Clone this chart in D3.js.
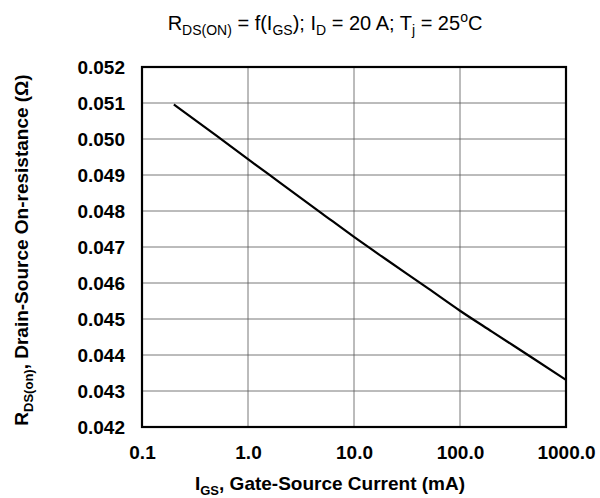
<!DOCTYPE html>
<html>
<head>
<meta charset="utf-8">
<script src="https://cdn.jsdelivr.net/npm/d3@7"></script>
<style>
body { margin: 0; background: white; }
text { font-family: "Liberation Sans", Arial, sans-serif; fill: black; }
.tick text { font-weight: bold; font-size: 19px; }
.grid line { stroke: #555; stroke-width: 0.8; }
</style>
</head>
<body>
<script>
// I_GS (mA) vs R_DS(on) (ohm)
const igs  = [0.2, 0.5, 1, 2, 5, 10, 20, 50, 100, 200, 500, 1000];
const rdson = [0.05096, 0.05010, 0.04944, 0.04879, 0.04793, 0.04728,
               0.04666, 0.04585, 0.04523, 0.04465, 0.04389, 0.04331];
const xTicks = [0.1, 1, 10, 100, 1000];
const xTickLabels = ["0.1", "1.0", "10.0", "100.0", "1000.0"];
const yTicks = [0.042, 0.043, 0.044, 0.045, 0.046, 0.047, 0.048, 0.049, 0.050, 0.051, 0.052];

const W = 600, H = 498;
const margin = {top: 67, right: 34, bottom: 71, left: 142};
const width = W - margin.left - margin.right;
const height = H - margin.top - margin.bottom;

const svg = d3.select("body").append("svg")
  .attr("width", W).attr("height", H);

const g = svg.append("g")
  .attr("transform", `translate(${margin.left},${margin.top})`);

const x = d3.scaleLog().domain([0.1, 1000]).range([0, width]);
const y = d3.scaleLinear().domain([0.042, 0.052]).range([height, 0]);

// grid
g.append("g").attr("class", "grid")
  .selectAll("line").data(yTicks.slice(1, -1)).enter().append("line")
  .attr("x1", 0).attr("x2", width)
  .attr("y1", d => y(d)).attr("y2", d => y(d));
g.append("g").attr("class", "grid")
  .selectAll("line").data(xTicks.slice(1, -1)).enter().append("line")
  .attr("y1", 0).attr("y2", height)
  .attr("x1", d => x(d)).attr("x2", d => x(d));

// axes (labels only)
const xAxis = d3.axisBottom(x).tickValues(xTicks)
  .tickFormat((d, i) => xTickLabels[i]).tickSize(0).tickPadding(19);
const yAxis = d3.axisLeft(y).tickValues(yTicks)
  .tickFormat(d3.format(".3f")).tickSize(0).tickPadding(17);

g.append("g").attr("transform", `translate(0,${height})`).call(xAxis)
  .call(s => s.select(".domain").remove());
g.append("g").call(yAxis)
  .call(s => s.select(".domain").remove());

// curve
const line = d3.line().curve(d3.curveMonotoneX)
  .x((d, i) => x(igs[i])).y(d => y(d));
g.append("path").datum(rdson)
  .attr("fill", "none").attr("stroke", "black").attr("stroke-width", 2.2)
  .attr("d", line);

// frame
g.append("rect").attr("width", width).attr("height", height)
  .attr("fill", "none").attr("stroke", "black").attr("stroke-width", 2.2);

// title
const title = svg.append("text")
  .attr("x", 325).attr("y", 30)
  .attr("text-anchor", "middle").style("font-size", "20px");
title.append("tspan").text("R");
title.append("tspan").attr("dy", 5).style("font-size", "14px").text("DS(ON)");
title.append("tspan").attr("dy", -5).text(" = f(I");
title.append("tspan").attr("dy", 5).style("font-size", "14px").text("GS");
title.append("tspan").attr("dy", -5).text("); I");
title.append("tspan").attr("dy", 5).style("font-size", "14px").text("D");
title.append("tspan").attr("dy", -5).text(" = 20 A; T");
title.append("tspan").attr("dy", 5).style("font-size", "14px").text("j");
title.append("tspan").attr("dy", -5).text(" = 25");
title.append("tspan").attr("dy", -8).style("font-size", "14px").text("o");
title.append("tspan").attr("dy", 8).text("C");

// x title
const xt = svg.append("text")
  .attr("x", 330).attr("y", 490)
  .attr("text-anchor", "middle")
  .style("font-size", "19px").style("font-weight", "bold");
xt.append("tspan").text("I");
xt.append("tspan").attr("dy", 5).style("font-size", "13px").text("GS");
xt.append("tspan").attr("dy", -5).text(", Gate-Source Current (mA)");

// y title
const yt = svg.append("text")
  .attr("transform", `translate(28,${margin.top + height / 2 + 3}) rotate(-90)`)
  .attr("text-anchor", "middle")
  .style("font-size", "19px").style("font-weight", "bold");
yt.append("tspan").text("R");
yt.append("tspan").attr("dy", 5).style("font-size", "13px").text("DS(on)");
yt.append("tspan").attr("dy", -5).text(", Drain-Source On-resistance (Ω)");
</script>
</body>
</html>
